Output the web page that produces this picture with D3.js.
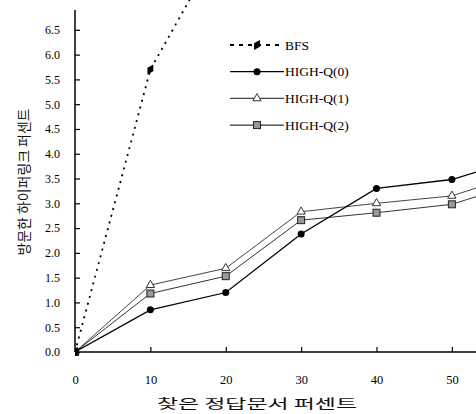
<!DOCTYPE html>
<html><head><meta charset="utf-8">
<script src="https://cdn.jsdelivr.net/npm/d3@7"></script>
<style>body{margin:0;background:#fff}svg{display:block}</style>
</head><body>
<svg id="c" width="476" height="414"></svg>
<script>
const xValues = [0, 10, 20, 30, 40, 50, 60];
const bfsX = [0, 10, 20];
const bfs = [0, 5.7, 8.4];
const highQ0 = [0, 0.85, 1.2, 2.38, 3.3, 3.48, 3.95];
const highQ1 = [0, 1.35, 1.69, 2.83, 3.0, 3.15, 3.64];
const highQ2 = [0, 1.18, 1.53, 2.66, 2.81, 2.98, 3.46];
const yTicks = [0, 0.5, 1.0, 1.5, 2.0, 2.5, 3.0, 3.5, 4.0, 4.5, 5.0, 5.5, 6.0, 6.5];
const xTicks = [0, 10, 20, 30, 40, 50];
const legendLabels = ["BFS", "HIGH-Q(0)", "HIGH-Q(1)", "HIGH-Q(2)"];
const xLabel = "찾은 정답문서 퍼센트";
const yLabel = "방문한 하이퍼링크 퍼센트";

const svg = d3.select("#c");
const x = d3.scaleLinear().domain([0, 53.2]).range([75, 476]);
const y = d3.scaleLinear().domain([0, 6.9]).range([352, 10]);
const serif = "'Liberation Serif','Times New Roman',serif";

svg.append("defs").append("clipPath").attr("id","clip")
  .append("rect").attr("x",75).attr("y",0).attr("width",401).attr("height",360);

// axes
const yAxis = d3.axisLeft(y).tickValues(yTicks).tickFormat(d3.format(".1f")).tickSize(-5).tickPadding(15);
const gy = svg.append("g").attr("transform","translate(75,0)").call(yAxis);
gy.select(".domain").attr("stroke","#000").attr("stroke-width",1.5).attr("d","M0,10V352");
gy.selectAll(".tick line").attr("stroke","#000").attr("stroke-width",1.2);
gy.selectAll(".tick text").attr("font-family",serif).attr("font-size",12).attr("fill","#000");

const xAxis = d3.axisBottom(x).tickValues(xTicks).tickSize(-5).tickPadding(23);
const gx = svg.append("g").attr("transform","translate(0,352)").call(xAxis);
gx.select(".domain").attr("stroke","#000").attr("stroke-width",1.5).attr("d","M75,0H476");
gx.selectAll(".tick line").attr("stroke","#000").attr("stroke-width",1.2);
gx.selectAll(".tick text").attr("font-family",serif).attr("font-size",12.5).attr("fill","#000");

// labels
svg.append("text").attr("x",257).attr("y",408).attr("text-anchor","middle")
  .attr("font-family","'Noto Sans CJK KR',sans-serif").attr("font-size",13).attr("fill","#111")
  .attr("textLength",200).attr("lengthAdjust","spacingAndGlyphs").text(xLabel);
svg.append("text").attr("transform","translate(29,182) rotate(-90)").attr("text-anchor","middle")
  .attr("font-family","'Noto Sans CJK KR',sans-serif").attr("font-size",14).attr("fill","#111")
  .attr("textLength",147).attr("lengthAdjust","spacingAndGlyphs").text(yLabel);

const line = d3.line().x(d=>x(d[0])).y(d=>y(d[1]));
const plot = svg.append("g").attr("clip-path","url(#clip)");

const series = [
  {name:"HIGH-Q(2)", xs:xValues, ys:highQ2, color:"#333", w:1, marker:"square"},
  {name:"HIGH-Q(1)", xs:xValues, ys:highQ1, color:"#444", w:1, marker:"triangle"},
  {name:"HIGH-Q(0)", xs:xValues, ys:highQ0, color:"#000", w:1.3, marker:"circle"},
  {name:"BFS", xs:bfsX, ys:bfs, color:"#000", w:1.8, marker:"diamond", dash:"2,5"}
];

function drawMarker(g, type, cx, cy){
  if(type==="circle") g.append("circle").attr("cx",cx).attr("cy",cy).attr("r",3.5).attr("fill","#000");
  else if(type==="triangle") g.append("path").attr("d",d3.symbol(d3.symbolTriangle,30)()).attr("transform",`translate(${cx},${cy})`).attr("fill","#fff").attr("stroke","#333").attr("stroke-width",1);
  else if(type==="square") g.append("rect").attr("x",cx-3.5).attr("y",cy-3.5).attr("width",7).attr("height",7).attr("fill","#999").attr("stroke","#222").attr("stroke-width",1);
  else if(type==="diamond") g.append("path").attr("d",d3.symbol(d3.symbolDiamond,40)()).attr("transform",`translate(${cx},${cy}) rotate(30)`).attr("fill","#000");
}

series.forEach(s=>{
  const pts = s.xs.map((v,i)=>[v,s.ys[i]]);
  plot.append("path").datum(pts).attr("d",line).attr("fill","none")
    .attr("stroke",s.color).attr("stroke-width",s.w).attr("stroke-dasharray",s.dash||null);
  pts.forEach(p=>drawMarker(plot, s.marker, x(p[0]), y(p[1])));
});

// legend
const legendMarkers = ["diamond","circle","triangle","square"];
const legendColors = ["#000","#000","#444","#333"];
legendLabels.forEach((lab,i)=>{
  const ly = 45 + i*26.7;
  const g = svg.append("g");
  g.append("line").attr("x1",230).attr("x2",284).attr("y1",ly).attr("y2",ly)
    .attr("stroke",legendColors[i]).attr("stroke-width",i===0?2:1.2).attr("stroke-dasharray",i===0?"4,5":null);
  drawMarker(g, legendMarkers[i], 257, ly);
  g.append("text").attr("x",285).attr("y",ly+4.5).attr("font-family",serif).attr("font-size",13.5).attr("fill","#000").text(lab);
});
</script>
</body></html>
